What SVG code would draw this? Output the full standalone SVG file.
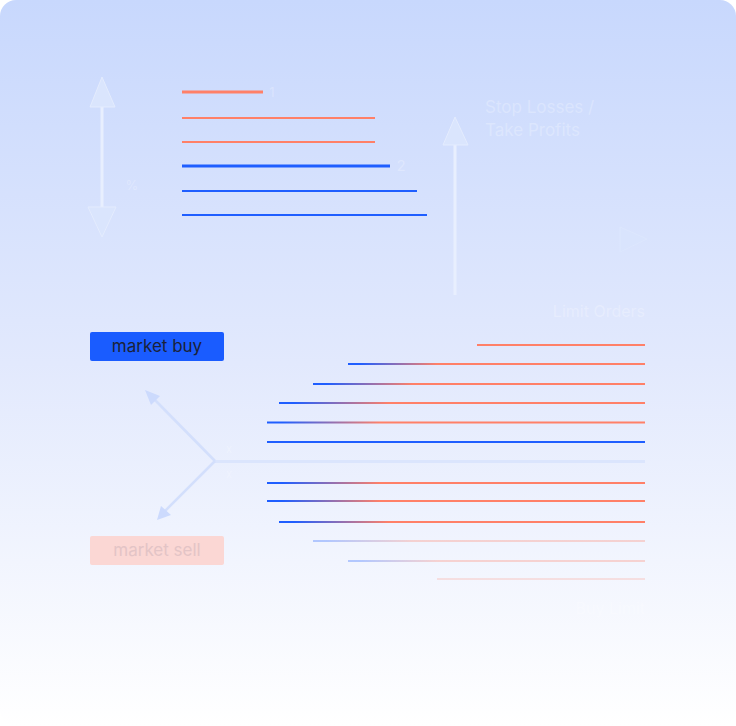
<svg xmlns="http://www.w3.org/2000/svg" width="736" height="726" viewBox="0 0 736 726">
<defs>
<linearGradient id="bg" x1="0" y1="0" x2="0" y2="1">
<stop offset="0" stop-color="#c8d8fd"/>
<stop offset="0.5" stop-color="#e2e9fd"/>
<stop offset="1" stop-color="#ffffff"/>
</linearGradient>
<linearGradient id="br" x1="0" y1="0" x2="1" y2="0">
<stop offset="0.04" stop-color="#1f5eff"/>
<stop offset="0.3" stop-color="#ff8068"/>
<stop offset="1" stop-color="#ff8068"/>
</linearGradient>
<style>
.faint{font-family:Inter,"Liberation Sans",sans-serif;fill:#ffffff;fill-opacity:0.25}
.red{fill:#ff8068}
.blue{fill:#1f5eff}
.grad{fill:url(#br)}
.pale{fill:#dbe5fd}
.arrow{fill:#dae5fd;stroke:#e4ecfe;stroke-width:1}
.shaft{stroke:#e8effe;stroke-width:3}
.diag{stroke:#d3dffc;stroke-width:2.5;fill:none}
.dhead{fill:#ccdafd}
.btn{font-family:Inter,"Liberation Sans",sans-serif;font-size:17px;text-anchor:middle}
</style>
</defs>
<rect x="0" y="0" width="736" height="726" rx="16" fill="url(#bg)"/>

<g id="sl-tp-arrow">
<line class="shaft" x1="102" y1="105" x2="102" y2="209"/>
<polygon class="arrow" points="102,77 90,107 115,107"/>
<polygon class="arrow" points="102,237 88,207 116,207"/>
<text class="faint" x="132" y="190" font-size="13" text-anchor="middle">%</text>
</g>

<g id="top-lines">
<rect class="red" x="182" y="90.5" width="81" height="3"/>
<rect class="red" x="182" y="117" width="193" height="2"/>
<rect class="red" x="182" y="141" width="193" height="2"/>
<rect class="blue" x="182" y="164.5" width="208" height="3"/>
<rect class="blue" x="182" y="190" width="235" height="2"/>
<rect class="blue" x="182" y="214" width="245" height="2"/>
<text class="faint" x="272" y="97" font-size="13" text-anchor="middle">1</text>
<text class="faint" x="401" y="171" font-size="15" text-anchor="middle">2</text>
</g>

<g id="vertical-arrow">
<line class="shaft" x1="455" y1="143" x2="455" y2="295"/>
<polygon class="arrow" points="455,117 443,145 468,145"/>
<polygon points="647,239 620,227 620,252" fill="#d9e4fd" stroke="#dde7fe" stroke-width="1"/>
</g>

<g id="label-stop">
<text class="faint" x="485" y="113" font-size="17">Stop Losses /</text>
<text class="faint" x="485" y="136" font-size="17">Take Profits</text>
</g>

<g id="label-limit">
<text class="faint" x="645" y="317" font-size="16" text-anchor="end">Limit Orders</text>
<text class="faint" x="645" y="614" font-size="16" text-anchor="end">Buy Limit</text>
</g>

<g id="order-lines">
<rect class="red" x="477" y="344" width="168" height="2"/>
<rect class="grad" x="348" y="363" width="297" height="2"/>
<rect class="grad" x="313" y="383" width="332" height="2"/>
<rect class="grad" x="279" y="402" width="366" height="2"/>
<rect class="grad" x="267" y="421.5" width="378" height="2"/>
<rect class="blue" x="267" y="441" width="378" height="2"/>
<rect class="pale" x="213" y="460" width="432" height="3"/>
<rect class="grad" x="267" y="482" width="378" height="2"/>
<rect class="grad" x="267" y="500" width="378" height="2"/>
<rect class="grad" x="279" y="521" width="366" height="2"/>
<rect class="grad" x="313" y="540" width="332" height="2" opacity="0.3"/>
<rect class="grad" x="348" y="560" width="297" height="2" opacity="0.3"/>
<rect class="red" x="437" y="578" width="208" height="2" opacity="0.2"/>
</g>

<g id="connectors">
<line class="diag" x1="215" y1="461" x2="152" y2="397"/>
<polygon class="dhead" points="145,390 160,396 151,405"/>
<line class="diag" x1="215" y1="461" x2="162" y2="514"/>
<polygon class="dhead" points="157,520 161,506 171,515"/>
<text class="faint" x="229" y="453" font-size="11" text-anchor="middle">x</text>
<text class="faint" x="229" y="478" font-size="11" text-anchor="middle">x</text>
</g>

<g id="market-buy">
<rect x="90" y="332" width="134" height="29" rx="2" fill="#1a5cff"/>
<text class="btn" x="157" y="352" fill="#1b2238">market buy</text>
</g>

<g id="market-sell">
<rect x="90" y="536" width="134" height="29" rx="2" fill="#fbd7d4"/>
<text class="btn" x="157" y="556" fill="#e3c4c6">market sell</text>
</g>
</svg>
